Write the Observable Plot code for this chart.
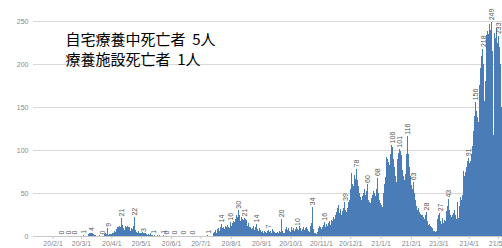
<!DOCTYPE html>
<html><head><meta charset="utf-8">
<script src="https://cdn.jsdelivr.net/npm/d3@7"></script>
<script src="https://cdn.jsdelivr.net/npm/@observablehq/plot@0.6"></script>
<style>html,body{margin:0;padding:0;background:#fff;overflow:hidden}</style>
</head><body><div id="chart"></div>
<script>
const startDate = "2020-02-01";
const dailyValues = [
  0,0,0,0,0,0,0,0,0,0,
  0,0,0,0,0,0,0,0,0,0,
  0,0,0,0,0,0,0,0,0,0,
  0,1,0,0,0,0,2,3,3,4,
  3,2,1,1,0,0,0,1,0,0,
  0,0,1,2,3,2,9,1,2,2,
  2,3,4,6,5,8,10,11,12,11,
  21,13,9,7,12,11,12,11,10,6,
  9,8,12,22,7,5,4,6,3,4,
  3,5,3,4,3,2,1,2,1,3,
  1,1,1,0,1,0,0,1,0,1,
  0,0,0,1,0,0,0,0,0,0,
  0,0,0,0,0,0,0,0,0,0,
  0,0,0,0,0,0,0,0,0,0,
  0,0,0,0,0,0,0,0,0,0,
  0,0,0,0,0,0,0,0,1,0,
  0,0,0,0,3,5,7,4,8,9,
  6,10,14,9,11,8,12,10,13,11,
  9,16,12,15,18,16,20,24,22,30,
  25,18,22,20,19,21,14,20,19,12,
  15,10,11,8,9,12,7,10,14,8,
  6,9,7,5,6,4,6,5,4,6,
  7,5,6,4,8,6,5,4,3,5,
  4,6,5,20,6,4,3,8,10,7,
  9,6,5,11,8,7,9,6,8,10,
  8,7,12,9,6,8,10,7,9,11,
  8,6,5,12,15,34,8,4,3,2,
  5,9,12,10,8,11,13,16,10,14,
  12,15,18,13,19,17,22,20,24,28,
  32,36,30,27,31,25,29,33,39,30,
  28,33,40,42,55,73,61,58,71,66,
  78,65,58,50,45,42,46,50,55,48,
  52,60,42,40,38,44,48,52,50,46,
  55,68,50,42,38,36,34,50,60,69,
  80,92,90,86,82,95,106,104,90,80,
  70,63,90,96,101,99,94,77,70,65,
  72,95,116,95,80,70,59,55,63,50,
  42,35,30,32,28,26,24,25,22,20,
  24,28,18,13,14,12,10,8,9,6,
  6,5,6,20,24,27,17,14,21,15,
  19,18,29,35,43,30,25,22,25,27,
  30,25,20,39,21,35,45,42,48,76,
  70,74,80,87,91,85,87,95,105,122,
  140,156,145,138,132,150,176,195,209,218,
  200,157,180,234,238,235,246,240,249,215,
  118,236,230,242,225,233,220,200,150,138,
  170
];
const labelDates = [
  "2020-02-09","2020-02-16","2020-02-23","2020-03-03","2020-03-11","2020-03-22","2020-03-28",
  "2020-04-11","2020-04-24","2020-05-03","2020-05-13","2020-05-24","2020-05-27","2020-06-04",
  "2020-06-13","2020-06-22","2020-07-08","2020-07-22","2020-07-31","2020-08-08","2020-08-14",
  "2020-08-27","2020-09-08","2020-09-21","2020-10-07","2020-10-23","2020-11-04","2020-11-25",
  "2020-12-07","2020-12-18","2020-12-28","2021-01-12","2021-01-20","2021-01-28","2021-02-03",
  "2021-02-16","2021-03-02","2021-03-11","2021-03-31","2021-04-07","2021-04-15","2021-04-24",
  "2021-05-01"
];
const yTicks = [0, 50, 100, 150, 200, 250];
const xTickStart = "2020-02-01";
const xTickEnd = "2021-05-01";
const annotationLines = ["自宅療養中死亡者  5人", "療養施設死亡者  1人"];

const day0 = new Date(startDate + "T00:00:00Z");
const data = dailyValues.map((v, i) => ({date: d3.utcDay.offset(day0, i), value: v}));
const byKey = new Map(data.map(d => [+d.date, d]));
const labels = labelDates.map(s => {
  const d = byKey.get(+new Date(s + "T00:00:00Z"));
  return {date: d3.utcHour.offset(d.date, 12), value: d.value};
});
const tStart = new Date(xTickStart + "T00:00:00Z");
const tEnd = new Date(xTickEnd + "T00:00:00Z");
const monthTicks = d3.utcMonths(tStart, d3.utcDay.offset(tEnd, 1));

const chart = Plot.plot({
  width: 502, height: 248,
  marginLeft: 33, marginRight: 0, marginTop: 0, marginBottom: 12,
  style: {fontFamily: "'Liberation Sans', Arial, sans-serif", background: "#fff"},
  x: {type: "utc", domain: [tStart, tEnd], range: [52.6, 498.1], label: null},
  y: {domain: [0, 250], range: [236, 21], label: null},
  marks: [
    Plot.gridY(yTicks, {stroke: "#d9d9d9", strokeOpacity: 1}),
    Plot.rectY(data, {x: "date", y: "value", interval: "day", fill: "#4a7cb8", inset: 0, shapeRendering: "crispEdges"}),
    Plot.ruleY([0], {stroke: "#c8c8c8"}),
    Plot.axisY(yTicks, {tickSize: 0, tickPadding: 5, fontSize: 7, fill: "#888", label: null}),
    Plot.axisX(monthTicks, {tickFormat: d3.utcFormat("%y/%-m/%-d"), tickSize: 3, tickPadding: 2, fontSize: 7, stroke: "#c8c8c8", fill: "#888", label: null}),
    Plot.text(labels, {x: "date", y: "value", text: d => String(d.value), rotate: -90, textAnchor: "start", dy: -2, fontSize: 7, fill: "#555"}),
    Plot.text([annotationLines.join("\n")], {frameAnchor: "top-left", dx: 32, dy: 30, fontSize: 15, lineHeight: 1.33, textAnchor: "start", lineAnchor: "top", fontFamily: "'Noto Sans CJK JP', sans-serif", fill: "#000"})
  ]
});
document.getElementById("chart").append(chart);
</script>
</body></html>
